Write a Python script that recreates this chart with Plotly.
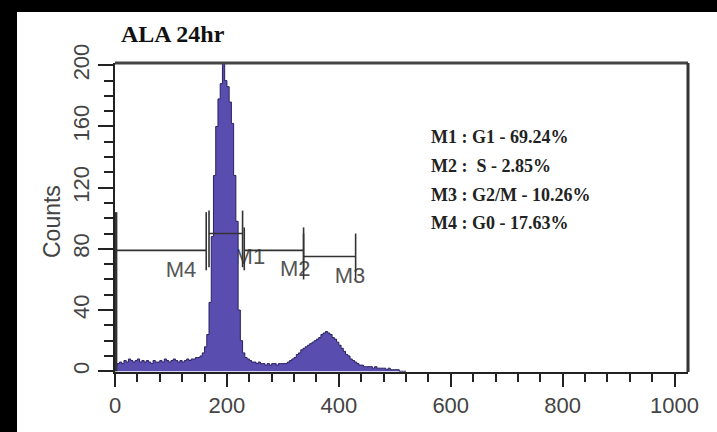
import plotly.graph_objects as go

# ---------------- data ----------------
bin_width = 4
bin_start = list(range(0, 520, 4))
counts = [
    4, 5, 6, 5, 7, 6, 8, 7, 6, 7,
    8, 6, 7, 6, 7, 6, 5, 7, 6, 6,
    7, 6, 8, 7, 6, 7, 8, 7, 6, 7,
    6, 7, 8, 7, 8, 8, 9, 9, 10, 12,
    16, 24, 45, 88, 128, 160, 178, 188, 215, 190,
    186, 176, 162, 128, 98, 40, 20, 12, 9, 8,
    7, 6, 6, 5, 6, 5, 5, 4, 5, 4,
    5, 5, 4, 5, 5, 5, 5, 6, 7, 8,
    9, 11, 12, 14, 15, 16, 17, 18, 19, 20,
    21, 22, 24, 25, 26, 25, 24, 22, 21, 19,
    17, 15, 13, 11, 10, 8, 7, 6, 5, 4,
    4, 3, 3, 3, 3, 2, 3, 2, 2, 2,
    2, 1, 2, 1, 1, 1, 1, 0, 0, 0,
]

# gate markers
m_names = ["M4", "M1", "M2", "M3"]
m_start = [2, 168, 231, 337]
m_end = [163, 228, 337, 430]
m_level = [79, 90, 79, 75]
m_bar_top = [104, 105, 94, 90]
m_bar_bot = [66, 68, 66, 60]
m_left_bar_bot = [0, 68, 66, 60]
m_label_x = [118, 241, 322, 420]
m_label_y = [65, 74, 66, 61]

stat_lines = [
    "M1 : G1 - 69.24%",
    "M2 :  S - 2.85%",
    "M3 : G2/M - 10.26%",
    "M4 : G0 - 17.63%",
]

title_text = "ALA 24hr"
y_title = "Counts"
x_ticks = [0, 200, 400, 600, 800, 1000]
y_ticks = [0, 40, 80, 120, 160, 200]

# ---------------- figure ----------------
W, H = 717, 432
ML, MR, MT, MB = 115, 29, 63, 60
PW, PH = W - ML - MR, H - MT - MB


def px_to_paper_x(px):
    return (px - ML) / PW


def px_to_paper_y(py):
    return (H - MB - py) / PH


fig = go.Figure()

# marker labels (drawn first so histogram can cover them)
fig.add_trace(go.Scatter(
    x=m_label_x, y=m_label_y, mode="text", text=m_names,
    textfont=dict(family="Liberation Sans, Arial", size=22, color="#555555"),
    hoverinfo="skip", showlegend=False,
))

# histogram
hx = bin_start + [bin_start[-1] + bin_width]
hy = counts + [counts[-1]]
fig.add_trace(go.Scatter(
    x=hx, y=hy, mode="lines", line_shape="hv",
    line=dict(color="#2a2262", width=1),
    fill="tozeroy", fillcolor="#5a4db0",
    hoverinfo="skip", showlegend=False,
))

# marker lines
for i in range(len(m_names)):
    fig.add_trace(go.Scatter(
        x=[m_start[i], m_end[i]], y=[m_level[i], m_level[i]], mode="lines",
        line=dict(color="#333333", width=1.6), hoverinfo="skip", showlegend=False,
    ))
    fig.add_trace(go.Scatter(
        x=[m_start[i], m_start[i]], y=[m_left_bar_bot[i], m_bar_top[i]], mode="lines",
        line=dict(color="#333333", width=2.5 if m_left_bar_bot[i] == 0 else 1.6),
        hoverinfo="skip", showlegend=False,
    ))
    fig.add_trace(go.Scatter(
        x=[m_end[i], m_end[i]], y=[m_bar_bot[i], m_bar_top[i]], mode="lines",
        line=dict(color="#333333", width=1.6), hoverinfo="skip", showlegend=False,
    ))

tickfont = dict(family="Liberation Sans, Arial", size=22, color="#444444")

fig.update_xaxes(
    range=[0, 1024], tickvals=x_ticks, ticktext=[str(v) for v in x_ticks],
    ticks="outside", ticklen=13, tickwidth=2, tickcolor="#222222",
    minor=dict(dtick=40, tick0=0, ticks="outside", ticklen=8, tickwidth=2, tickcolor="#222222"),
    showline=True, linecolor="#222222", linewidth=2, mirror=False,
    showgrid=False, zeroline=False, tickfont=tickfont, automargin=False,
)
fig.update_yaxes(
    range=[-0.5, 201.5], tickvals=y_ticks, ticktext=[str(v) for v in y_ticks],
    ticks="outside", ticklen=15, tickwidth=2, tickcolor="#222222", tickangle=-90,
    minor=dict(dtick=10, tick0=0, ticks="outside", ticklen=9, tickwidth=2, tickcolor="#222222"),
    showline=True, linecolor="#222222", linewidth=2, mirror=False,
    showgrid=False, zeroline=False, tickfont=tickfont, automargin=False,
)

annotations = [
    dict(text=f"<b>{title_text}</b>", xref="paper", yref="paper",
         x=px_to_paper_x(119), y=px_to_paper_y(34), xanchor="left", yanchor="middle",
         showarrow=False, font=dict(family="Liberation Serif, Times New Roman", size=24, color="#111111")),
    dict(text=y_title, xref="paper", yref="paper", textangle=-90,
         x=px_to_paper_x(52), y=px_to_paper_y(222), xanchor="center", yanchor="middle",
         showarrow=False, font=dict(family="Liberation Sans, Arial", size=23, color="#444444")),
]
row_y = [137, 166, 195, 223]
for t, ry in zip(stat_lines, row_y):
    annotations.append(dict(
        text=f"<b>{t}</b>", xref="paper", yref="paper",
        x=px_to_paper_x(429), y=px_to_paper_y(ry), xanchor="left", yanchor="middle",
        showarrow=False, font=dict(family="Liberation Serif, Times New Roman", size=18, color="#222222"),
    ))

fig.update_layout(
    width=W, height=H, autosize=False,
    margin=dict(l=ML, r=MR, t=MT, b=MB, pad=0, autoexpand=False),
    paper_bgcolor="#000000", plot_bgcolor="#ffffff",
    showlegend=False,
    annotations=annotations,
    shapes=[
        dict(type="rect", xref="paper", yref="paper", layer="below",
             x0=px_to_paper_x(17), x1=px_to_paper_x(W + 5),
             y0=px_to_paper_y(H + 5), y1=px_to_paper_y(12),
             fillcolor="#ffffff", line=dict(width=0)),
        dict(type="line", xref="paper", yref="paper", layer="above",
             x0=0, x1=1, y0=1, y1=1, line=dict(color="#444444", width=3)),
        dict(type="line", xref="paper", yref="paper", layer="above",
             x0=1, x1=1, y0=0, y1=1, line=dict(color="#333333", width=3)),
    ],
)

page_fix = (
    "document.body.style.margin='0';"
    "document.body.style.padding='0';"
    "document.body.style.overflow='hidden';"
    "document.body.style.background='#000000';"
)

fig.write_html("out.html", post_script=page_fix,
               config={"displayModeBar": False, "staticPlot": True})
